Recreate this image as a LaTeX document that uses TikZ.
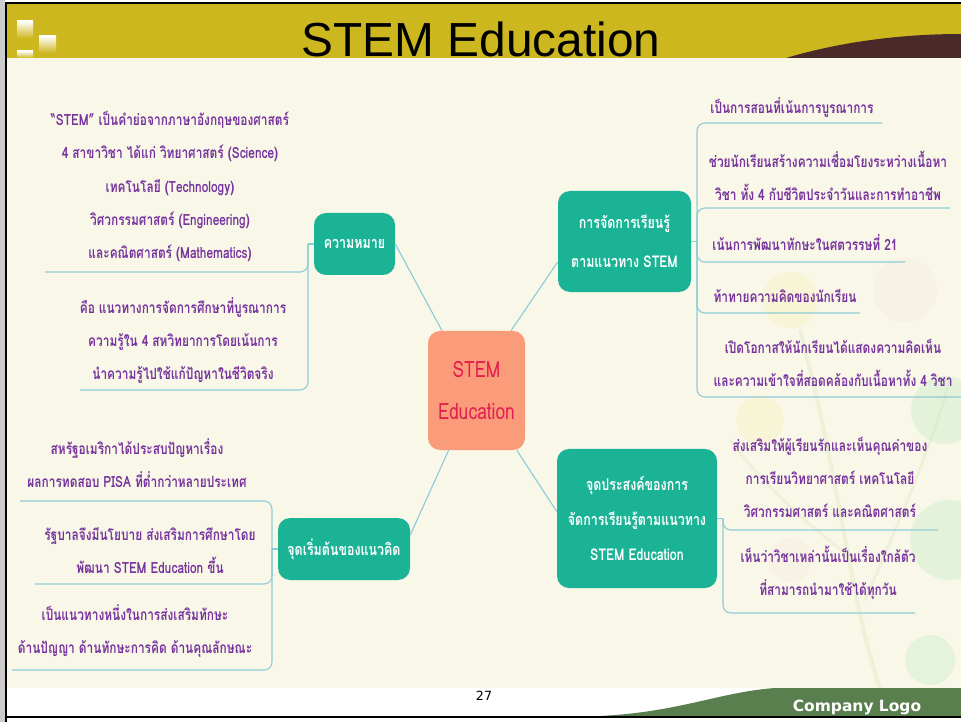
\documentclass[tikz,border=0pt]{standalone}
\usepackage{fontspec}
\setmainfont{Liberation Sans}
\newfontfamily\thaifont[Script=Thai,FakeStretch=0.77]{Loma}
\newfontfamily\footfont{DejaVu Sans}
\definecolor{bandgold}{RGB}{205,183,30}
\definecolor{paper}{RGB}{248,247,232}
\definecolor{swoosh}{RGB}{74,42,40}
\definecolor{footgreen}{RGB}{90,127,78}
\definecolor{topicteal}{RGB}{27,179,149}
\definecolor{hubsalmon}{RGB}{250,155,122}
\definecolor{hubred}{RGB}{226,30,78}
\definecolor{leafpurple}{RGB}{118,50,158}
\definecolor{twig}{RGB}{143,203,216}
\begin{document}
\begin{tikzpicture}[x=0.25mm,y=-0.25mm,
  hub/.style={rounded corners=3mm,fill=hubsalmon,text=hubred,align=center,
    font=\thaifont\fontsize{16}{30}\selectfont,minimum width=24.25mm,minimum height=29.75mm},
  topic/.style={rounded corners=3mm,fill=topicteal,text=white,align=center,
    font=\thaifont\bfseries\fontsize{11.5}{28}\selectfont},
  leaf/.style={text=leafpurple,align=center,inner sep=0pt,
    font=\thaifont\bfseries\fontsize{11}{23.5}\selectfont},
  twigline/.style={draw=twig,line width=0.8pt,rounded corners=2mm},
  fadebox/.style={top color=white,bottom color=bandgold},
  blot/.style={opacity=0.08}]
\useasboundingbox (0,0) rectangle (961,722);
% slide frame
\fill[white] (0,0) rectangle (961,722);
\fill[black!20] (0,0) rectangle (5,722);
\fill[paper] (6,58) rectangle (961,688);
% faint tree in the corner
\draw[blot,line width=3pt,green!40!brown] (880,688) .. controls (850,600) and (840,480) .. (800,330);
\draw[blot,line width=2pt,green!40!brown] (865,600) .. controls (900,520) and (930,450) .. (950,380);
\draw[blot,line width=2pt,green!40!brown] (855,560) .. controls (800,520) and (760,480) .. (730,440);
\fill[blot,pink] (905,290) circle (32);
\fill[blot,yellow!80!orange] (790,300) circle (28);
\fill[blot,green!50!teal] (945,410) circle (34);
\fill[blot,green!50!teal] (950,540) circle (40);
\fill[blot,pink] (790,560) circle (22);
\fill[blot,green!60!teal] (930,660) circle (25);
\fill[blot,yellow!80!orange] (760,420) circle (24);
% title band
\fill[bandgold] (6,3) rectangle (961,58);
\fill[swoosh] (786,58) .. controls (840,42) and (900,34) .. (961,34) -- (961,58) -- cycle;
\shade[fadebox] (17,21) rectangle (33,38);
\shade[fadebox] (39,36) rectangle (56,53);
\shade[fadebox] (17,51) rectangle (33,58);
\fill[footgreen] (600,716) .. controls (680,712) and (720,692) .. (775,688) -- (961,688) -- (961,716) -- cycle;
\draw[line width=1.4pt] (6,722) -- (6,3) -- (961,3);
\draw[line width=2pt] (6,717) -- (961,717);
\node (title) at (481,39) {\fontsize{34}{40}\selectfont STEM Education};
\node[font=\footfont\fontsize{9}{11}\selectfont] (page) at (484,696) {27};
\node[font=\footfont\bfseries\fontsize{11}{13}\selectfont,text=white] (logo) at (857,707) {Company Logo};

% hub and topics
\node[hub] (c) at (476.5,390.5) {STEM\\Education};
\node[topic,minimum width=20.25mm,minimum height=15.5mm] (b1) at (354.5,244) {ความหมาย};
\node[topic,minimum width=33.25mm,minimum height=25.25mm] (b2) at (624.5,241.5) {การจัดการเรียนรู้\\ตามแนวทาง STEM};
\node[topic,minimum width=40mm,minimum height=34.75mm,font=\thaifont\bfseries\fontsize{11.5}{25}\selectfont] (b3) at (637,518.5) {จุดประสงค์ของการ\\จัดการเรียนรู้ตามแนวทาง\\STEM Education};
\node[topic,minimum width=33mm,minimum height=15.5mm] (b4) at (344,549) {จุดเริ่มต้นของแนวคิด};

% leaves
\node[leaf] (m1) at (170,186.5) {“STEM” เป็นคำย่อจากภาษาอังกฤษของศาสตร์\\4 สาขาวิชา ได้แก่ วิทยาศาสตร์ (Science)\\เทคโนโลยี (Technology)\\วิศวกรรมศาสตร์ (Engineering)\\และคณิตศาสตร์ (Mathematics)};
\node[leaf] (m2) at (183,340) {คือ แนวทางการจัดการศึกษาที่บูรณาการ\\ความรู้ใน 4 สหวิทยาการโดยเน้นการ\\นำความรู้ไปใช้แก้ปัญหาในชีวิตจริง};
\node[leaf] (r1) at (792,107) {เป็นการสอนที่เน้นการบูรณาการ};
\node[leaf] (r2) at (828,175.5) {ช่วยนักเรียนสร้างความเชื่อมโยงระหว่างเนื้อหา\\วิชา ทั้ง 4 กับชีวิตประจำวันและการทำอาชีพ};
\node[leaf] (r3) at (805,243) {เน้นการพัฒนาทักษะในศตวรรษที่ 21};
\node[leaf] (r4) at (785,296) {ท้าทายความคิดของนักเรียน};
\node[leaf] (r5) at (833,362.5) {เปิดโอกาสให้นักเรียนได้แสดงความคิดเห็น\\และความเข้าใจที่สอดคล้องกับเนื้อหาทั้ง 4 วิชา};
\node[leaf] (p1) at (830,477) {ส่งเสริมให้ผู้เรียนรักและเห็นคุณค่าของ\\การเรียนวิทยาศาสตร์ เทคโนโลยี\\วิศวกรรมศาสตร์ และคณิตศาสตร์};
\node[leaf] (p2) at (828,573) {เห็นว่าวิชาเหล่านั้นเป็นเรื่องใกล้ตัว\\ที่สามารถนำมาใช้ได้ทุกวัน};
\node[leaf] (s1) at (137,463.5) {สหรัฐอเมริกาได้ประสบปัญหาเรื่อง\\ผลการทดสอบ PISA ที่ต่ำกว่าหลายประเทศ};
\node[leaf] (s2) at (150,550.5) {รัฐบาลจึงมีนโยบาย ส่งเสริมการศึกษาโดย\\พัฒนา STEM Education ขึ้น};
\node[leaf] (s3) at (135,631.5) {เป็นแนวทางหนึ่งในการส่งเสริมทักษะ\\ด้านปัญญา ด้านทักษะการคิด ด้านคุณลักษณะ};

% hub to topics
\draw[twigline] (c.120) -- (b1.east);
\draw[twigline] (c.60) -- (b2.197);
\draw[twigline] (c.245) -- (b4.12);
\draw[twigline] (c.304) -- (b3.175);

% topic stubs and underline ends
\foreach \kn/\kx/\ky in {k1/308/244,k2/697/241.5,k3/723/518.5,k4/272/549}{\coordinate (\kn) at (\kx,\ky);}
\foreach \kn/\kx/\ky in {um1/45/272,um2/80/390,ur1/882/123,ur2/950/208,ur3/905/262,ur4/860/313,ur5/961/397,
  up1/938/530,up2/915/613,us1/20/501,us2/35/584,us3/12/670}{\coordinate (\kn) at (\kx,\ky);}
\draw[twigline] (b1.west) -- (k1);
\draw[twigline] (b2.east) -- (k2);
\draw[twigline] (b3.east) -- (k3);
\draw[twigline] (b4.west) -- (k4);
\foreach \ku in {um1,um2}{\draw[twigline] (k1) |- (\ku);}
\foreach \ku in {ur1,ur2,ur3,ur4,ur5}{\draw[twigline] (k2) |- (\ku);}
\foreach \ku in {up1,up2}{\draw[twigline] (k3) |- (\ku);}
\foreach \ku in {us1,us2,us3}{\draw[twigline] (k4) |- (\ku);}
\end{tikzpicture}
\end{document}
